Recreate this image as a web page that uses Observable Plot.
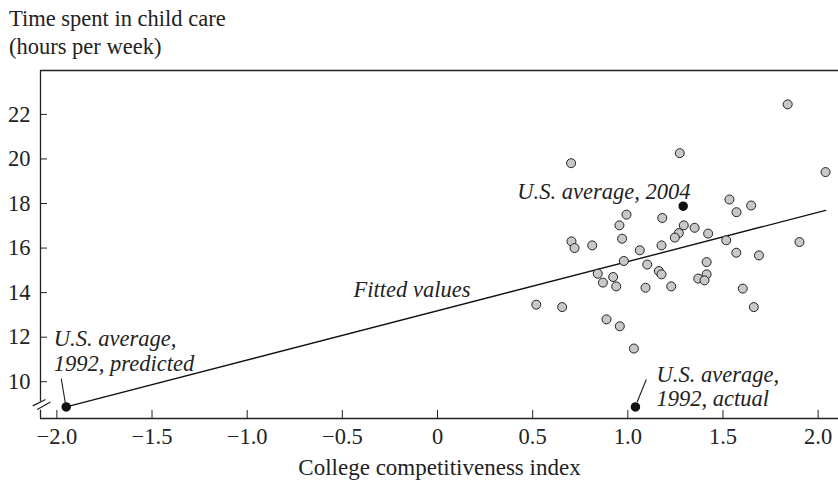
<!DOCTYPE html>
<html><head><meta charset="utf-8">
<script src="https://cdn.jsdelivr.net/npm/d3@7"></script>
<script src="https://cdn.jsdelivr.net/npm/@observablehq/plot@0.6"></script>
<style>
html,body{margin:0;padding:0;background:#fff;}
#title{font-family:"Liberation Serif","Times New Roman",serif;font-size:22.5px;line-height:28px;color:#222;padding:5px 0 0 9px;height:57px;}
svg{display:block;}
</style></head><body>
<div id="title">Time spent in child care<br>(hours per week)</div>
<div id="chart"></div>
<script>
// College competitiveness index (x) and hours per week of child care (y), one per state
const competitiveness = [1.840,1.273,0.702,2.039,1.534,1.648,1.571,0.993,0.956,1.181,1.294,1.351,1.268,1.247,1.422,0.970,0.704,0.720,0.813,1.063,1.177,1.517,1.902,1.570,1.689,0.979,1.414,1.102,1.163,1.177,0.842,0.923,1.414,1.370,1.403,0.869,0.939,1.093,1.228,1.604,0.519,0.655,1.662,0.888,0.958,1.032];
const childCareHours = [22.45,20.26,19.81,19.41,18.18,17.91,17.61,17.50,17.02,17.35,17.02,16.91,16.67,16.47,16.65,16.42,16.30,16.00,16.12,15.90,16.12,16.35,16.27,15.79,15.67,15.42,15.37,15.26,14.97,14.82,14.85,14.70,14.82,14.63,14.55,14.45,14.28,14.22,14.28,14.18,13.46,13.35,13.35,12.80,12.49,11.49];

// Highlighted U.S. averages
const usAvgNames = ["2004", "1992 predicted", "1992 actual"];
const usAvgX = [1.291, -1.951, 1.040];
const usAvgY = [17.88, 8.87, 8.87];

// Fitted values line (end points)
const fitX = [-1.951, 2.039];
const fitY = [8.87, 17.69];

// Axes
const xDomain = [-2.086, 2.107];
const yDomain = [8.35, 23.97];
const xTicks = [-2, -1.5, -1, -0.5, 0, 0.5, 1, 1.5, 2];
const xTickLabels = ["\u22122.0","\u22121.5","\u22121.0","\u22120.5","0","0.5","1.0","1.5","2.0"];
const yTicks = [10, 12, 14, 16, 18, 20, 22];
const xLabel = "College competitiveness index";
const yBreak = [9.09, 8.72];

// Annotations
const annText = ["U.S. average, 2004", "Fitted values"];
const annX = [1.329, 0.173];
const annY = [18.215, 13.80];
const multiText = ["U.S. average,\n1992, predicted", "U.S. average,\n1992, actual"];
const multiX = [-2.016, 1.151];
const multiY = [10.50, 8.915];
const leaderX1 = [-1.977, 1.097];
const leaderY1 = [10.14, 10.10];
const leaderX2 = [-1.955, 1.049];
const leaderY2 = [9.02, 9.09];
const slashX1 = [-2.127, -2.103];
const slashY1 = [8.915, 8.75];
const slashX2 = [-2.060, -2.034];
const slashY2 = [9.20, 9.09];

const pts = competitiveness.map((x, i) => ({x, y: childCareHours[i]}));
const avg = usAvgNames.map((n, i) => ({n, x: usAvgX[i], y: usAvgY[i]}));
const fit = fitX.map((x, i) => ({x, y: fitY[i]}));
const ann = annText.map((t, i) => ({t, x: annX[i], y: annY[i]}));
const multi = multiText.map((t, i) => ({t, x: multiX[i], y: multiY[i]}));
const leaders = leaderX1.map((x, i) => ({x1: x, y1: leaderY1[i], x2: leaderX2[i], y2: leaderY2[i]}));
const slashes = slashX1.map((x, i) => ({x1: x, y1: slashY1[i], x2: slashX2[i], y2: slashY2[i]}));

const ink = "#222";
const chart = Plot.plot({
  width: 838, height: 418,
  marginLeft: 40, marginRight: 0, marginTop: 8, marginBottom: 62,
  x: {domain: xDomain},
  y: {domain: yDomain},
  style: {fontFamily: '"Liberation Serif","Times New Roman",serif', fontSize: "22.5px", color: ink, background: "white", overflow: "visible"},
  marks: [
    Plot.ruleY([yDomain[1]], {stroke: ink, strokeWidth: 1.3}),
    Plot.ruleY([yDomain[0]], {stroke: ink, strokeWidth: 1.3}),
    Plot.ruleX([xDomain[0]], {y1: yBreak[0], y2: yDomain[1], stroke: ink, strokeWidth: 1.3}),
    Plot.ruleX([xDomain[0]], {y1: yDomain[0], y2: yBreak[1], stroke: ink, strokeWidth: 1.3}),
    Plot.link(slashes, {x1: "x1", y1: "y1", x2: "x2", y2: "y2", stroke: ink, strokeWidth: 1.2}),
    Plot.axisX(xTicks, {tickSize: -8, tickPadding: 18, tickFormat: d => xTickLabels[xTicks.indexOf(d)], label: null, stroke: ink}),
    Plot.axisY(yTicks, {tickSize: -7, tickPadding: 17, label: null, stroke: ink}),
    Plot.text([xLabel], {frameAnchor: "bottom", dy: 56, lineAnchor: "bottom", fontSize: 23, fill: ink}),
    Plot.line(fit, {x: "x", y: "y", stroke: "#111", strokeWidth: 1.4}),
    Plot.link(leaders, {x1: "x1", y1: "y1", x2: "x2", y2: "y2", stroke: ink, strokeWidth: 1.1}),
    Plot.dot(pts, {x: "x", y: "y", r: 4.5, fill: "#c8c8c8", stroke: ink, strokeWidth: 1}),
    Plot.dot(avg, {x: "x", y: "y", r: 4, fill: "#111", stroke: "#111"}),
    Plot.text(ann, {x: "x", y: "y", text: "t", textAnchor: "end", lineAnchor: "bottom", fontStyle: "italic", fill: ink}),
    Plot.text(multi, {x: "x", y: "y", text: "t", textAnchor: "start", lineAnchor: "bottom", lineHeight: 1.08, fontStyle: "italic", fill: ink})
  ]
});
document.getElementById("chart").appendChild(chart);
</script></body></html>
